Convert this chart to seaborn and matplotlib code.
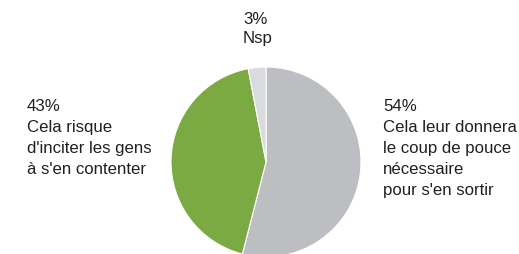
import matplotlib

matplotlib.use("Agg")
import matplotlib.pyplot as plt
import seaborn as sns

# data
values = [54, 43, 3]
labels = [
    "54%\nCela leur donnera\nle coup de pouce\nnécessaire\npour s'en sortir",
    "43%\nCela risque\nd'inciter les gens\nà s'en contenter",
    "3%\nNsp",
]
colors = ["#bdbec1", "#7baa43", "#dadbdd"]

sns.set_theme(style="white")
plt.rcParams["font.family"] = ["Liberation Sans", "DejaVu Sans"]

W, H = 519, 254
fig = plt.figure(figsize=(W / 100, H / 100), dpi=100)

# pie axes placed in pixel units: centre (266, 162), radius 95
cx, cy, r = 266, 162, 95
ax = fig.add_axes([(cx - r) / W, (H - cy - r) / H, 2 * r / W, 2 * r / H])
ax.pie(values, colors=colors, startangle=90, counterclock=False,
       wedgeprops=dict(edgecolor="white", linewidth=0.8))
ax.set_xlim(-1, 1)
ax.set_ylim(-1, 1)
ax.axis("off")

text_kw = dict(fontsize=12.1, color="#231f20", va="top", ha="left",
               linespacing=1.5)
fig.text(383 / W, 1 - 99 / H, labels[0], **text_kw)
fig.text(27 / W, 1 - 99 / H, labels[1], **text_kw)
fig.text(243 / W, 1 - 12 / H, labels[2], fontsize=12.1, color="#231f20",
         va="top", ha="left", linespacing=1.35)

fig.savefig("out.png", dpi=100)
plt.close(fig)
